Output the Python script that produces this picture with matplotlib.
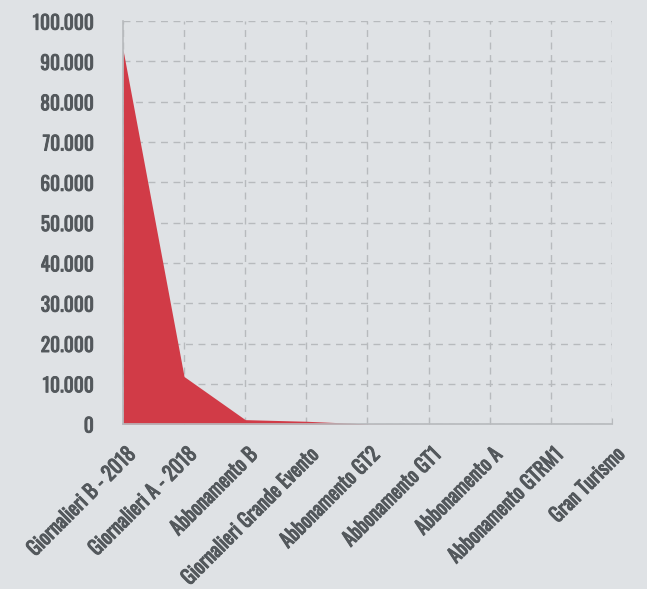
import matplotlib
matplotlib.use("Agg")
import matplotlib.pyplot as plt
import matplotlib.transforms as mtransforms
import matplotlib.patheffects as pe
from matplotlib.ticker import FuncFormatter, MultipleLocator
from matplotlib import font_manager

categories = ["Giornalieri B - 2018", "Giornalieri A - 2018", "Abbonamento B",
              "Giornalieri Grande Evento", "Abbonamento GT2", "Abbonamento GT1",
              "Abbonamento A", "Abbonamento GTRM1", "Gran Turismo"]
values = [93000, 11800, 1100, 700, 40, 10, 5, 2, 1]

names = {f.name for f in font_manager.fontManager.ttflist}
fam = next((n for n in ["Oswald", "Roboto Condensed", "DejaVu Sans"] if n in names), "DejaVu Sans")

bg = "#dfe2e5"
txt = "#53585c"
red = "#d13b47"

fig = plt.figure(figsize=(6.47, 5.89), dpi=100, facecolor=bg)
ax = fig.add_axes([0.190, 0.280, 0.756, 0.684], facecolor=bg)

x = list(range(len(categories)))
ax.fill_between(x, values, 0, color=red, linewidth=0, zorder=2)

ax.set_xlim(0, len(categories) - 1)
ax.set_ylim(0, 100000)
ax.yaxis.set_major_locator(MultipleLocator(10000))
ax.yaxis.set_major_formatter(FuncFormatter(lambda v, p: f"{int(v):,}".replace(",", ".")))
ax.set_xticks(x)
ax.set_xticklabels(categories)

ax.grid(True, color="#b7babd", linestyle=(0, (5, 4)), linewidth=1, zorder=1)
for s in ["top", "right"]:
    ax.spines[s].set_visible(False)
ax.spines["left"].set_color("#b7babd")
ax.spines["bottom"].set_color("#b7babd")
ax.spines["left"].set_linewidth(1.2)
ax.spines["bottom"].set_linewidth(1.2)

ax.tick_params(axis="y", length=0, pad=21, labelsize=14, labelcolor=txt)
ax.tick_params(axis="x", length=4, direction="in", color="#b7babd", pad=6, labelsize=14.4, labelcolor=txt)

bold = [pe.withStroke(linewidth=0.65, foreground=txt)]
for lab in ax.get_yticklabels():
    lab.set_fontfamily(fam)
    lab.set_path_effects(bold)

offset = mtransforms.ScaledTranslation(2 / 100, -11 / 100, fig.dpi_scale_trans)
for lab in ax.get_xticklabels():
    lab.set_fontfamily(fam)
    lab.set_path_effects(bold)
    lab.set_rotation(45)
    lab.set_rotation_mode("anchor")
    lab.set_ha("right")
    lab.set_va("top")
    lab.set_transform(lab.get_transform() + offset)

fig.savefig("out.png", dpi=100, facecolor=bg)
